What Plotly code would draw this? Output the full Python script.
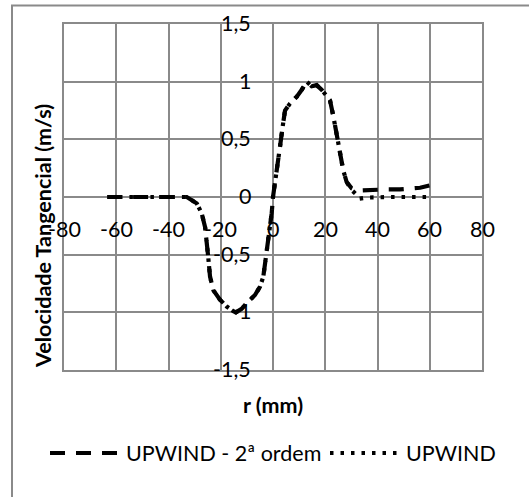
import plotly.graph_objects as go

# Tangential velocity profiles (r in mm, velocity in m/s)
r_2nd = [-63.5, -55, -45, -35, -33, -29.2, -27.3, -26, -25.4, -24.8, -24.1, -22.8,
         -20.3, -17.7, -15.2, -14.2, -12, -10.1, -6.9, -5, -3.7, -2.8, -2.4, -1.1,
         -0.5, 0, 1.4, 2.7, 3.7, 4.6, 6.5, 9.1, 11, 12.9, 14.8, 16.7, 18.6, 21.8,
         23.1, 24.4, 25.6, 26.9, 28.2, 30.1, 32, 35.9, 39.7, 43.5, 48.6, 52.4,
         56.3, 60, 63.3]
v_2nd = [0, 0, 0, 0, 0, -0.055, -0.14, -0.26, -0.37, -0.52, -0.69, -0.81,
         -0.89, -0.95, -0.99, -1.0, -0.97, -0.92, -0.85, -0.78, -0.69, -0.55, -0.43, -0.26,
         -0.14, 0, 0.2, 0.44, 0.61, 0.75, 0.81, 0.87, 0.93, 1.0, 0.96, 0.97, 0.93, 0.84,
         0.70, 0.55, 0.38, 0.23, 0.13, 0.075, 0.055, 0.06, 0.066, 0.066, 0.066, 0.075,
         0.08, 0.10, 0.13]

r_1st = [-63, -55, -45, -35, -33, -29.2, -27.3, -26, -25.4, -24.8, -24.1, -22.8,
         -20.3, -17.7, -15.2, -14.2, -12, -10.1, -6.9, -5, -3.7, -2.8, -2.4, -1.1,
         -0.5, 0, 1.4, 2.7, 3.7, 4.6, 6.5, 9.1, 11, 12.9, 14.8, 16.7, 18.6, 21.8,
         23.1, 24.4, 25.6, 26.9, 28.2, 30.1, 32, 33, 35.9, 40, 45, 50, 55, 60]
v_1st = [0, 0, 0, 0, 0, -0.055, -0.14, -0.26, -0.37, -0.52, -0.69, -0.81,
         -0.89, -0.95, -0.99, -1.0, -0.97, -0.92, -0.85, -0.78, -0.69, -0.55, -0.43, -0.26,
         -0.14, 0, 0.2, 0.44, 0.61, 0.75, 0.81, 0.87, 0.93, 1.0, 0.96, 0.97, 0.93, 0.84,
         0.70, 0.55, 0.38, 0.23, 0.13, 0.06, 0.02, -0.015, -0.005, 0, 0, 0, 0, 0]

series_names = ["UPWIND - 2ª ordem", "UPWIND"]
x_ticks = [-80, -60, -40, -20, 0, 20, 40, 60, 80]
y_ticks = [-1.5, -1, -0.5, 0, 0.5, 1, 1.5]
y_tick_text = ["-1,5", "-1", "-0,5", "0", "0,5", "1", "1,5"]
x_title = "r (mm)"
y_title = "Velocidade Tangencial (m/s)"

FONT = "Lato"
FS = 21.5
GRID = "#8a8a8a"
W, H = 529, 497
ML, MR, MT, MB = 64, 47, 24, 127
PW, PH = W - ML - MR, H - MT - MB


def px_x(p):
    return (p - ML) / PW


def px_y(p):
    return (H - MB - p) / PH


LW = 4.2
DASH_2ND = "15px,11px"
DASH_1ST = "3.5px,7px"

fig = go.Figure()
fig.add_trace(go.Scatter(x=r_2nd, y=v_2nd, mode="lines", name=series_names[0],
                         line=dict(color="black", width=LW, dash=DASH_2ND),
                         showlegend=False))
fig.add_trace(go.Scatter(x=r_1st, y=v_1st, mode="lines", name=series_names[1],
                         line=dict(color="black", width=LW, dash=DASH_1ST),
                         showlegend=False))

font = dict(family=FONT, size=FS, color="black")
annotations = []
# x tick labels sit under the horizontal axis at y = 0
for t in x_ticks:
    annotations.append(dict(x=t, y=0, xref="x", yref="y", text=str(t), showarrow=False,
                            xanchor="center", yanchor="middle", yshift=-32, font=font))
# y tick labels sit left of the vertical axis at x = 0
for t, s in zip(y_ticks, y_tick_text):
    annotations.append(dict(x=0, y=t, xref="x", yref="y", text=s, showarrow=False,
                            xanchor="right", yanchor="middle", xshift=-20, yshift=1,
                            font=font))
# axis titles
annotations.append(dict(x=0, y=px_y(405), xref="x", yref="paper", text="<b>%s</b>" % x_title,
                        showarrow=False, xanchor="center", yanchor="middle", font=font))
annotations.append(dict(x=px_x(43), y=px_y(236), xref="paper", yref="paper",
                        text="<b>%s</b>" % y_title, textangle=-90, showarrow=False,
                        xanchor="center", yanchor="middle", font=font))
# legend texts
annotations.append(dict(x=px_x(124), y=px_y(453), xref="paper", yref="paper",
                        text=series_names[0], xanchor="left", yanchor="middle",
                        showarrow=False, font=font))
annotations.append(dict(x=px_x(404), y=px_y(453), xref="paper", yref="paper",
                        text=series_names[1], xanchor="left", yanchor="middle",
                        showarrow=False, font=font))

shapes = [
    # outer chart frame
    dict(type="rect", xref="paper", yref="paper", x0=px_x(12), x1=px_x(540),
         y0=px_y(510), y1=px_y(5.5), line=dict(color=GRID, width=2), layer="below"),
    # legend samples
    dict(type="line", xref="paper", yref="paper", x0=px_x(50), x1=px_x(118),
         y0=px_y(453), y1=px_y(453), line=dict(color="black", width=LW, dash=DASH_2ND)),
    dict(type="line", xref="paper", yref="paper", x0=px_x(330), x1=px_x(397),
         y0=px_y(453), y1=px_y(453), line=dict(color="black", width=LW, dash=DASH_1ST)),
]

fig.update_layout(
    width=W, height=H,
    margin=dict(l=ML, r=MR, t=MT, b=MB),
    paper_bgcolor="white", plot_bgcolor="white",
    showlegend=False,
    annotations=annotations,
    shapes=shapes,
)
fig.update_xaxes(range=[-80, 80], tickvals=x_ticks, showticklabels=False, ticks="",
                 showgrid=True, gridcolor=GRID, gridwidth=2,
                 zeroline=True, zerolinecolor=GRID, zerolinewidth=2,
                 showline=True, linecolor=GRID, linewidth=2, mirror=True)
fig.update_yaxes(range=[-1.5, 1.5], tickvals=y_ticks, showticklabels=False, ticks="",
                 showgrid=True, gridcolor=GRID, gridwidth=2,
                 zeroline=True, zerolinecolor=GRID, zerolinewidth=2,
                 showline=True, linecolor=GRID, linewidth=2, mirror=True)

fig.write_html("out.html")
